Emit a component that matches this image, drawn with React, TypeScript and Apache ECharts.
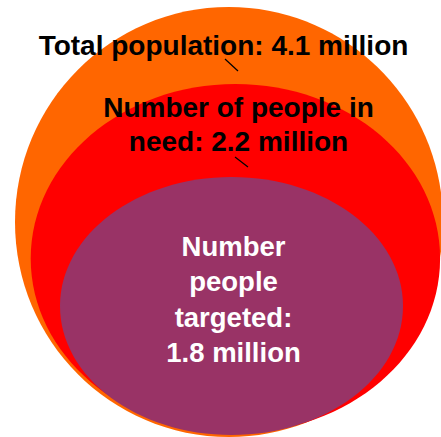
import React, { useEffect, useRef } from "react";
import * as echarts from "echarts";

// Data
const groups = ["Total population", "Number of people in need", "Number people targeted"];
const valuesMillion = [4.1, 2.2, 1.8];
const colors = ["#FF6600", "#FF0000", "#993366"];

// Layout (pixel geometry of nested ellipses)
const ellipses = [
  { cx: 229, cy: 222, rx: 214, ry: 215 },
  { cx: 235.4, cy: 258.5, rx: 204.7, ry: 174.5 },
  { cx: 231.5, cy: 306, rx: 171.5, ry: 129 },
];

export default function App() {
  const ref = useRef<HTMLDivElement>(null);
  useEffect(() => {
    if (!ref.current) return;
    const chart = echarts.init(ref.current, null, { renderer: "svg" });
    const font = "Liberation Sans, Arial, sans-serif";
    const elements: any[] = [];
    ellipses.forEach((e, i) => {
      elements.push({
        type: "ellipse",
        shape: { cx: e.cx, cy: e.cy, rx: e.rx, ry: e.ry },
        style: { fill: colors[i] },
        z: i,
      });
    });
    const txt = (text: string, x: number, y: number, fill: string, size: number, lh: number) => ({
      type: "text",
      x,
      y,
      z: 10,
      style: {
        text,
        fill,
        font: `bold ${size}px ${font}`,
        align: "center",
        verticalAlign: "middle",
        lineHeight: lh,
      },
    });
    elements.push(txt(`${groups[0]}: ${valuesMillion[0]} million`, 223.5, 45.5, "#000", 28, 28));
    elements.push({
      type: "line",
      z: 10,
      shape: { x1: 225, y1: 59, x2: 238, y2: 71 },
      style: { stroke: "#000", lineWidth: 1.2 },
    });
    elements.push(
      txt(`Number of people in\nneed: ${valuesMillion[1]} million`, 238.5, 124, "#000", 28, 34)
    );
    elements.push({
      type: "line",
      z: 10,
      shape: { x1: 235, y1: 157, x2: 248, y2: 167 },
      style: { stroke: "#000", lineWidth: 1.2 },
    });
    elements.push(
      txt(`Number\npeople\ntargeted:\n${valuesMillion[2]} million`, 233.5, 299.5, "#fff", 27.5, 35.3)
    );
    chart.setOption({
      animation: false,
      graphic: { elements },
    });
    return () => chart.dispose();
  }, []);
  return (
    <div
      ref={ref}
      style={{ position: "fixed", left: 0, top: 0, width: 441, height: 437, background: "#fff" }}
    />
  );
}
